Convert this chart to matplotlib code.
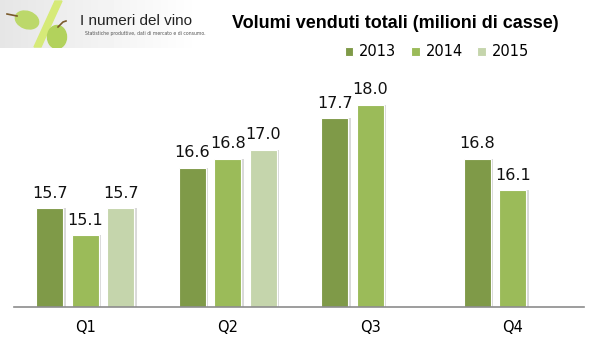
import numpy as np
import matplotlib.pyplot as plt
from matplotlib.patches import Circle, Ellipse, Polygon

# quarterly volumes sold, millions of cases
quarters = ["Q1", "Q2", "Q3", "Q4"]
years = ["2013", "2014", "2015"]
vol_2013 = [15.7, 16.6, 17.7, 16.8]
vol_2014 = [15.1, 16.8, 18.0, 16.1]
vol_2015 = [15.7, 17.0, None, None]
colors = ["#7f9a48", "#9bbb59", "#c5d5ac"]

fig = plt.figure(figsize=(5.98, 3.44), dpi=100)
ax = fig.add_axes([14 / 598, 37 / 344, 570 / 598, 247 / 344])

x = np.arange(len(quarters))
width = 0.19
offsets = [-0.25, 0.0, 0.25]
for series, off, col, yr in zip([vol_2013, vol_2014, vol_2015], offsets, colors, years):
    xs = [xi + off for xi, v in zip(x, series) if v is not None]
    vs = [v for v in series if v is not None]
    # soft shadow to the right of each bar
    ax.bar([xx + 0.018 for xx in xs], [v - 13.5 for v in vs], width, bottom=13.5,
           color="#d9d9d9", zorder=1)
    ax.bar(xs, [v - 13.5 for v in vs], width, bottom=13.5, color=col,
           edgecolor="white", linewidth=0.8, zorder=2, label=yr)
    for xx, v in zip(xs, vs):
        ax.text(xx, v + 0.17, f"{v:.1f}", ha="center", va="bottom",
                fontsize=11.5, family="DejaVu Sans", color="#111111")

ax.set_xlim(-0.5, 3.5)
ax.set_ylim(13.5, 19.0)
ax.set_xticks(x)
ax.set_xticklabels(quarters, fontsize=10.5, family="DejaVu Sans")
ax.tick_params(axis="x", length=0, pad=9)
ax.set_yticks([])
for s in ["top", "left", "right"]:
    ax.spines[s].set_visible(False)
ax.spines["bottom"].set_color("#8c8c8c")
ax.spines["bottom"].set_linewidth(1.2)

fig.text(395 / 598, 1 - 23 / 344, "Volumi venduti totali (milioni di casse)",
         ha="center", va="center", fontsize=13, fontweight="bold",
         family="Liberation Sans")
fig.legend(loc="center", bbox_to_anchor=(437 / 598, 1 - 52 / 344), ncol=3,
           frameon=False, fontsize=10.5, handlelength=0.6, handleheight=0.6,
           handletextpad=0.4, columnspacing=1.0)

# logo block in the top-left corner
lax = fig.add_axes([0, 1 - 48 / 344, 200 / 598, 48 / 344])
lax.set_xlim(0, 200)
lax.set_ylim(48, 0)
lax.axis("off")
grad = np.linspace(0.90, 1.0, 200)[None, :].repeat(10, axis=0)
lax.imshow(grad, cmap="gray", vmin=0, vmax=1, extent=[0, 200, 48, 0], aspect="auto")
lax.add_patch(Polygon([[55, 1], [62, 1], [41, 47], [34, 47]], color="#d6ea78"))
lax.add_patch(Ellipse((27, 20), 24, 17, angle=20, color="#bcd86a"))
lax.add_patch(Ellipse((57, 37), 19, 23, color="#b2d25c"))
lax.plot([7, 17], [14, 16], color="#7a5a2a", lw=1.2)
lax.plot([58, 63, 66], [27, 22, 21], color="#7a5a2a", lw=1.2)
lax.text(80, 21, "I numeri del vino", fontsize=11, va="center", color="#222222",
         family="Liberation Sans")
lax.text(85, 34, "Statistiche produttive, dati di mercato e di consumo.",
         fontsize=3.3, va="center", color="#555555")

fig.savefig("out.png", dpi=100)
